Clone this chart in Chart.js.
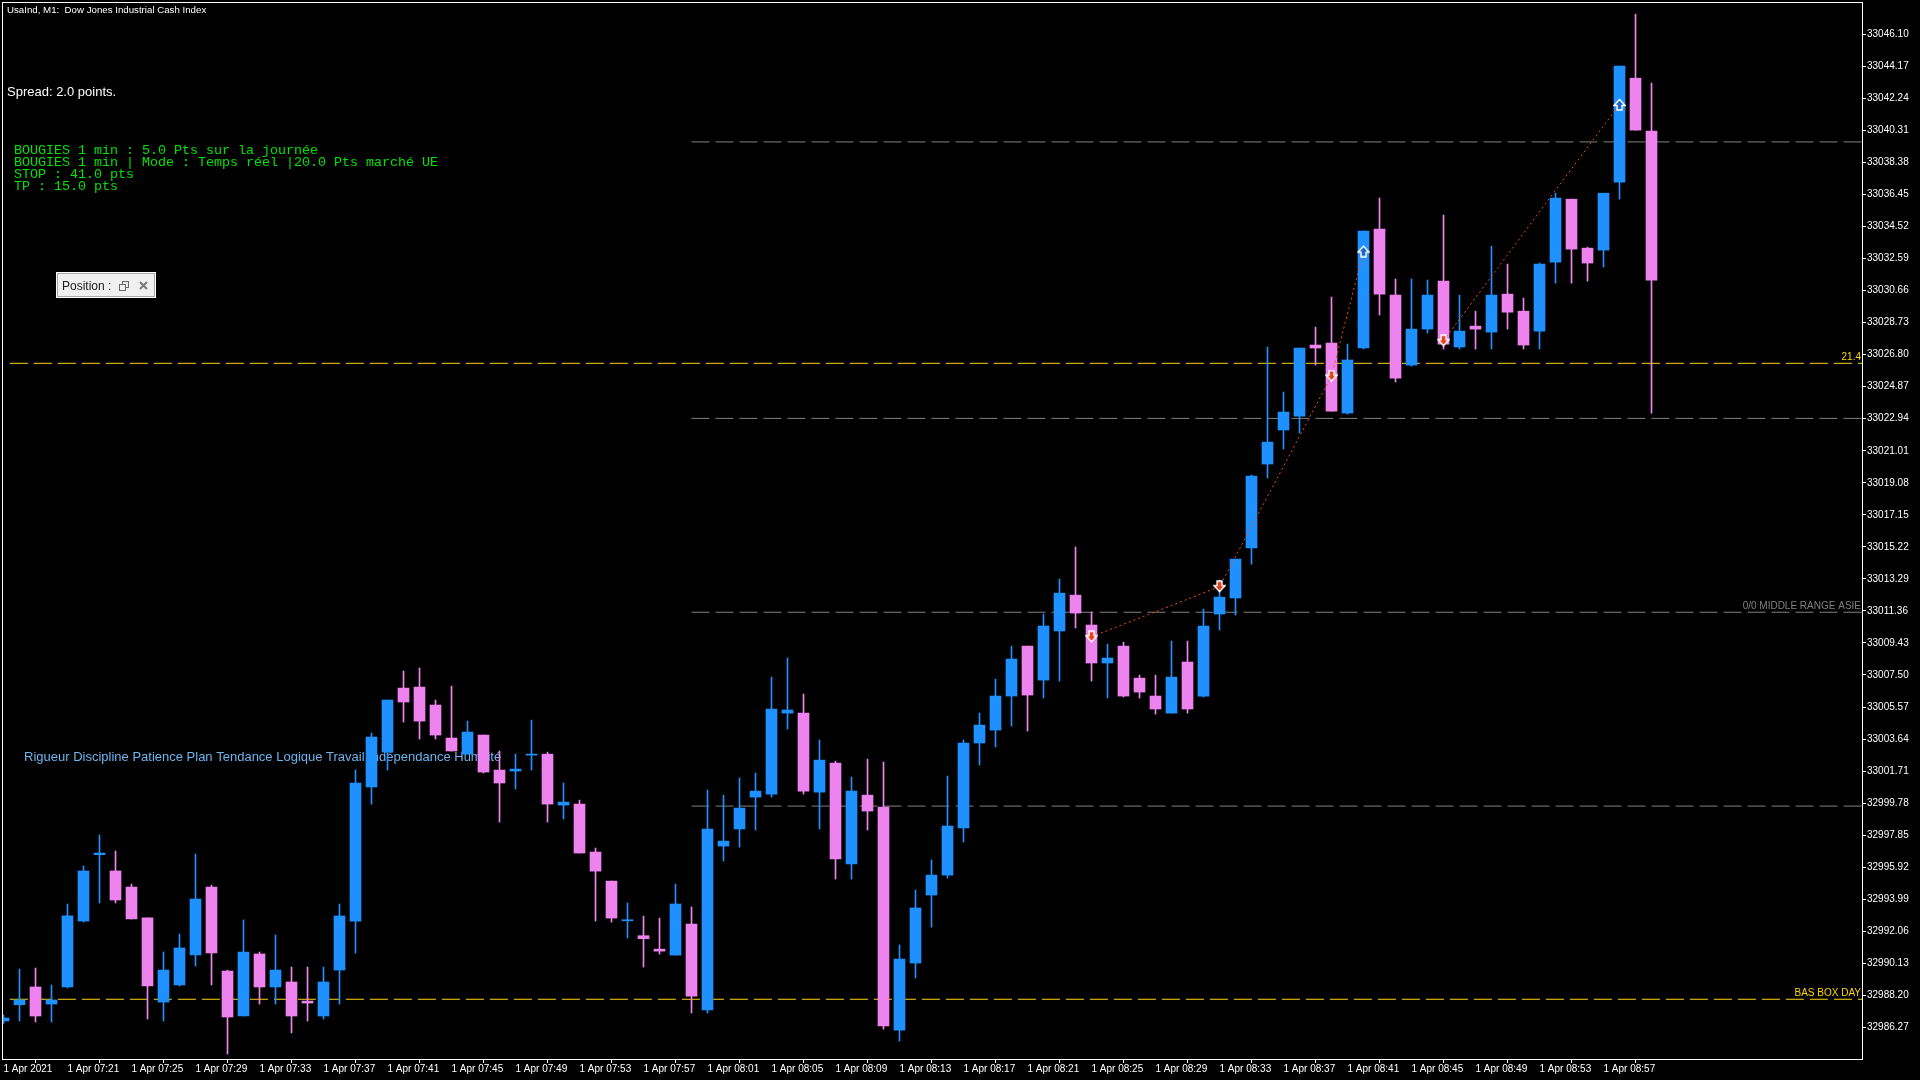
<!DOCTYPE html>
<html><head><meta charset="utf-8">
<style>html,body{margin:0;padding:0;background:#000;overflow:hidden}#wrap{width:1920px;height:1080px}canvas{display:block}</style>
<script src="https://cdn.jsdelivr.net/npm/chart.js@4.4.1/dist/chart.umd.min.js"></script>
</head><body>
<div id="wrap"><canvas id="c" width="1920" height="1080"></canvas></div>
<script>
// ---------- texts ----------
const chartTitle = "UsaInd, M1:  Dow Jones Industrial Cash Index";
const spreadText = "Spread: 2.0 points.";
const infoLines = [
  "BOUGIES 1 min : 5.0 Pts sur la journée",
  "BOUGIES 1 min | Mode : Temps réel |20.0 Pts marché UE",
  "STOP : 41.0 pts",
  "TP : 15.0 pts"
];
const mottoText = "Rigueur Discipline Patience Plan Tendance Logique Travail Indépendance Humilité";
const panelText = "Position :";

// ---------- axes ----------
const xTickLabels = ["1 Apr 2021","1 Apr 07:21","1 Apr 07:25","1 Apr 07:29","1 Apr 07:33","1 Apr 07:37",
  "1 Apr 07:41","1 Apr 07:45","1 Apr 07:49","1 Apr 07:53","1 Apr 07:57","1 Apr 08:01","1 Apr 08:05",
  "1 Apr 08:09","1 Apr 08:13","1 Apr 08:17","1 Apr 08:21","1 Apr 08:25","1 Apr 08:29","1 Apr 08:33",
  "1 Apr 08:37","1 Apr 08:41","1 Apr 08:45","1 Apr 08:49","1 Apr 08:53","1 Apr 08:57"];
const barsPerXTick = 4;
const yTickValues = [32986.27,32988.20,32990.13,32992.06,32993.99,32995.92,32997.85,32999.78,33001.71,
  33003.64,33005.57,33007.50,33009.43,33011.36,33013.29,33015.22,33017.15,33019.08,33021.01,33022.94,
  33024.87,33026.80,33028.73,33030.66,33032.59,33034.52,33036.45,33038.38,33040.31,33042.24,33044.17,33046.10];

// ---------- candles (one per minute from 07:17) ----------
const opens = [32986.65,32987.63,32988.70,32987.67,32988.70,32992.67,32996.67,32995.69,32994.72,32992.86,
  32987.79,32988.82,32990.63,32994.72,32989.66,32986.95,32990.69,32988.70,32989.00,32987.85,
  32986.95,32989.72,32992.67,33000.75,33002.85,33006.71,33006.77,33005.69,33003.70,33002.73,
  33003.88,33001.77,33001.71,33002.67,33002.73,32999.66,32999.72,32996.83,32995.08,32992.69,
  32991.79,32990.98,32990.62,32992.49,32987.31,32997.19,32998.22,33000.14,33000.32,33005.20,
  33005.20,33000.44,33002.19,32996.11,33000.26,32999.54,32986.10,32990.14,32994.24,32995.44,
  32998.28,33003.40,33004.18,33006.23,33009.24,33007.19,33010.15,33012.31,33010.51,33008.22,
  33009.24,33007.31,33006.23,33005.20,33008.28,33006.23,33011.17,33012.14,33015.15,33020.21,
  33022.26,33023.10,33027.38,33027.50,33023.28,33027.20,33034.37,33030.39,33026.17,33028.34,
  33031.24,33027.26,33028.52,33028.16,33030.45,33029.42,33028.22,33032.38,33036.17,33033.22,
  33033.10,33037.20,33043.46,33040.27];
const highs = [32987.00,32989.78,32989.84,32988.82,32993.70,32995.99,32997.86,32996.89,32994.90,32992.86,
  32990.81,32991.89,32996.71,32994.84,32989.72,32992.74,32990.81,32991.83,32989.90,32989.90,
  32989.90,32993.70,33001.77,33004.00,33005.99,33007.74,33007.92,33005.99,33006.83,33004.72,
  33003.88,33002.92,33002.73,33004.78,33002.85,33000.99,32999.96,32997.07,32995.08,32993.76,
  32992.97,32992.85,32994.90,32993.52,33000.57,33000.26,33001.29,33001.59,33007.37,33008.52,
  33006.35,33003.58,33002.31,33001.35,33002.43,33002.25,32991.23,32994.54,32996.35,33001.41,
  33003.58,33005.20,33007.25,33009.24,33009.24,33011.17,33013.28,33015.21,33011.29,33009.36,
  33009.48,33007.49,33007.49,33009.54,33009.54,33011.47,33013.22,33014.48,33019.55,33027.26,
  33024.55,33027.20,33028.46,33030.27,33027.44,33034.25,33036.24,33031.36,33031.36,33031.30,
  33035.21,33030.39,33029.42,33033.34,33032.26,33030.21,33032.32,33036.53,33036.17,33033.28,
  33036.53,33044.19,33047.32,33043.16];
const lows = [32986.50,32986.65,32986.59,32986.59,32988.64,32992.61,32993.76,32993.76,32992.80,32986.77,
  32986.65,32988.76,32989.96,32988.82,32984.66,32986.95,32987.67,32987.67,32985.93,32986.65,
  32986.77,32987.67,32990.74,32999.72,33001.77,33004.66,33003.64,33003.64,33002.92,33002.73,
  33001.59,32998.64,33000.63,33001.77,32998.64,32998.82,32996.77,32992.67,32992.61,32991.65,
  32989.90,32990.68,32990.62,32987.13,32987.13,32996.29,32997.13,32998.16,33000.14,33004.24,
  33000.32,32998.22,32995.20,32995.20,32998.16,32986.16,32985.44,32989.24,32992.31,32995.26,
  32997.43,33002.07,33003.16,33004.42,33004.12,33006.11,33007.13,33010.33,33007.13,33006.11,
  33006.17,33006.11,33005.14,33005.20,33005.20,33006.17,33010.21,33011.11,33014.18,33019.37,
  33021.11,33022.08,33026.17,33023.40,33023.22,33027.14,33029.19,33025.15,33026.11,33028.10,
  33027.14,33027.14,33027.14,33027.14,33028.34,33027.14,33027.14,33031.11,33031.11,33031.23,
  33032.08,33036.17,33040.33,33023.28];
const closes = [32986.83,32987.92,32986.95,32987.92,32992.98,32995.69,32996.77,32993.94,32992.80,32988.76,
  32989.72,32991.05,32994.00,32990.75,32986.89,32990.81,32988.70,32989.72,32986.95,32987.73,
  32989.00,32992.98,33000.99,33003.76,33005.99,33005.87,33004.72,33003.88,33002.92,33004.06,
  33001.65,33000.99,33001.83,33002.73,32999.72,32999.84,32996.77,32995.68,32992.85,32992.75,
  32991.61,32990.86,32993.70,32988.15,32998.22,32997.49,32999.48,33000.50,33005.45,33005.39,
  33000.50,33002.37,32996.41,33000.50,32999.30,32986.35,32990.38,32993.46,32995.44,32998.40,
  33003.40,33004.48,33006.23,33008.46,33006.29,33010.45,33012.43,33011.23,33008.22,33008.52,
  33006.23,33006.47,33005.45,33007.37,33005.45,33010.45,33012.19,33014.48,33019.49,33021.53,
  33023.34,33027.20,33027.20,33023.40,33026.48,33034.25,33030.45,33025.39,33028.34,33030.39,
  33027.44,33028.22,33028.34,33030.39,33029.36,33027.38,33032.26,33036.23,33033.16,33032.32,
  33036.53,33044.19,33040.33,33031.29];

// ---------- horizontal levels ----------
const levelPrices    = [33039.62, 33026.28, 33022.96, 33011.28, 32999.60, 32987.96];
const levelStartBars = [43, 0.4, 43, 43, 43, 0.4];
const levelKinds     = ["range", "box", "range", "range", "range", "box"];
const levelLabels    = ["", "21.4", "", "0/0 MIDDLE RANGE ASIE", "", "BAS BOX DAY"];

// ---------- trade history (bar index, price) ----------
const tradeA_bars   = [68, 76, 83, 85];
const tradeA_prices = [33009.80, 33012.82, 33025.51, 33033.04];
const tradeA_dirs   = ["down", "down", "down", "up"];
const tradeB_bars   = [90, 101];
const tradeB_prices = [33027.64, 33041.88];
const tradeB_dirs   = ["down", "up"];

// ---------- styles ----------
const UP = '#1E90FF', DOWN = '#EE82EE';
const YELLOW = '#FFD700', GRAY = '#808080';
const X_MIN = -1/32, X_MAX = 116.156, Y_MIN = 32984.36, Y_MAX = 33047.99;

function makeArrow(down, fill) {
  const c = document.createElement('canvas'); c.width = 13; c.height = 13;
  const g = c.getContext('2d');
  const pts = down ? [[4,1],[9,1],[9,5.5],[12,5.5],[6.5,11.5],[1,5.5],[4,5.5]]
                   : [[4,12],[9,12],[9,7.5],[12,7.5],[6.5,1.5],[1,7.5],[4,7.5]];
  g.beginPath(); pts.forEach((p,i)=> i ? g.lineTo(p[0],p[1]) : g.moveTo(p[0],p[1])); g.closePath();
  g.fillStyle = fill; g.fill(); g.strokeStyle = '#fff'; g.lineWidth = 1.4; g.stroke();
  return c;
}
const arrowDown = makeArrow(true, '#e8401c');
const arrowUp = makeArrow(false, '#1a64c8');

const isUp = opens.map((o,i) => closes[i] >= o);
const candleColors = isUp.map(u => u ? UP : DOWN);

const datasets = [];
levelPrices.forEach((p, k) => {
  datasets.push({
    type: 'line', order: 20,
    data: [{x: levelStartBars[k], y: p}, {x: X_MAX, y: p}],
    borderColor: levelKinds[k] === 'box' ? YELLOW : GRAY,
    borderWidth: 1, borderDash: [18, 6], pointRadius: 0, fill: false
  });
});
datasets.push({
  type: 'bar', order: 10, grouped: false,
  data: lows.map((l,i) => ({x: i, y: [l, highs[i]]})),
  backgroundColor: candleColors, borderWidth: 0, barThickness: 1, minBarLength: 1
});
datasets.push({
  type: 'bar', order: 9, grouped: false,
  data: opens.map((o,i) => ({x: i, y: [o, closes[i]]})),
  backgroundColor: candleColors, borderWidth: 0, barThickness: 11, minBarLength: 1
});
function tradeSet(bars, prices, dirs) {
  return {
    type: 'line', order: 1,
    data: bars.map((b,i) => ({x: b, y: prices[i]})),
    borderColor: '#f04a18', borderWidth: 1, borderDash: [2, 3], fill: false,
    pointStyle: dirs.map(d => d === 'down' ? arrowDown : arrowUp),
    pointRadius: 6, tension: 0
  };
}
datasets.push(tradeSet(tradeA_bars, tradeA_prices, tradeA_dirs));
datasets.push(tradeSet(tradeB_bars, tradeB_prices, tradeB_dirs));

const SANS = '"Liberation Sans", Arial, sans-serif';

const deco = {
  id: 'deco',
  beforeDraw(chart) {
    const ctx = chart.ctx; ctx.save(); ctx.fillStyle = '#000';
    ctx.fillRect(0, 0, chart.width, chart.height); ctx.restore();
  },
  beforeDatasetsDraw(chart) {
    const ctx = chart.ctx; ctx.save();
    ctx.font = '13px ' + SANS; ctx.fillStyle = '#6cb4ee'; ctx.textBaseline = 'alphabetic';
    ctx.fillText(mottoText, 24, 761);
    ctx.restore();
  },
  afterDatasetsDraw(chart) {
    const ctx = chart.ctx, ys = chart.scales.y, a = chart.chartArea;
    ctx.save(); ctx.font = '10px ' + SANS; ctx.textAlign = 'right'; ctx.textBaseline = 'alphabetic';
    levelPrices.forEach((p,k) => {
      if (!levelLabels[k]) return;
      ctx.fillStyle = levelKinds[k] === 'box' ? YELLOW : GRAY;
      ctx.fillText(levelLabels[k], a.right - 1, Math.round(ys.getPixelForValue(p)) - 3);
    });
    ctx.restore();
  },
  afterDraw(chart) {
    const ctx = chart.ctx, a = chart.chartArea;
    ctx.save();
    ctx.strokeStyle = '#fff'; ctx.lineWidth = 1;
    ctx.strokeRect(a.left - 0.5, a.top - 0.5, a.right - a.left + 1, a.bottom - a.top + 1);
    ctx.fillStyle = '#fff'; ctx.font = '9.7px ' + SANS; ctx.textBaseline = 'alphabetic';
    ctx.fillText(chartTitle, 7, 13);
    ctx.font = '13px ' + SANS;
    ctx.fillText(spreadText, 7, 96);
    ctx.fillStyle = '#00e400'; ctx.font = '13.33px "Liberation Mono", "Courier New", monospace';
    infoLines.forEach((t, i) => ctx.fillText(t, 14, 154 + i * 12));
    ctx.fillStyle = '#f0f0f0'; ctx.fillRect(56, 272, 100, 26);
    ctx.strokeStyle = '#ffffff'; ctx.strokeRect(56.5, 272.5, 99, 25);
    ctx.strokeStyle = '#a8a8a8'; ctx.strokeRect(57.5, 273.5, 97, 23);
    ctx.fillStyle = '#202020'; ctx.font = '12px ' + SANS;
    ctx.fillText(panelText, 62, 290);
    ctx.strokeStyle = '#6a6a6a';
    ctx.strokeRect(122.5, 281.5, 6, 6);
    ctx.fillStyle = '#f0f0f0'; ctx.fillRect(119, 284, 7, 7);
    ctx.strokeRect(119.5, 284.5, 6, 6);
    ctx.strokeStyle = '#7a7a7a'; ctx.lineWidth = 2;
    ctx.beginPath(); ctx.moveTo(140, 282); ctx.lineTo(147, 289); ctx.moveTo(147, 282); ctx.lineTo(140, 289); ctx.stroke();
    ctx.restore();
  }
};

function zeroPad(s) { s.paddingTop = 0; s.paddingBottom = 0; s.paddingLeft = 0; s.paddingRight = 0; }

new Chart(document.getElementById('c'), {
  type: 'bar',
  data: { datasets },
  options: {
    responsive: false, animation: false, devicePixelRatio: 1,
    layout: { autoPadding: false, padding: { left: 3, top: 3, right: 0, bottom: 0 } },
    plugins: { legend: { display: false }, tooltip: { enabled: false }, title: { display: false } },
    events: [],
    scales: {
      x: {
        type: 'linear', position: 'bottom', min: X_MIN, max: X_MAX, offset: false,
        afterBuildTicks: s => { s.ticks = xTickLabels.map((_, k) => ({ value: k * barsPerXTick })); },
        afterFit: s => { s.height = 21; zeroPad(s); },
        grid: { drawOnChartArea: false, drawTicks: true, tickLength: 4, color: '#fff', tickColor: '#fff' },
        border: { display: false },
        ticks: {
          autoSkip: false, maxRotation: 0, minRotation: 0, align: 'start', padding: 0,
          color: '#fff', font: { family: 'Liberation Sans', size: 10 },
          callback: v => xTickLabels[Math.round(v / barsPerXTick)] ?? ''
        }
      },
      y: {
        type: 'linear', position: 'right', min: Y_MIN, max: Y_MAX,
        afterBuildTicks: s => { s.ticks = yTickValues.map(v => ({ value: v })); },
        afterFit: s => { s.width = 58; zeroPad(s); },
        grid: { drawOnChartArea: false, drawTicks: true, tickLength: 4, color: '#fff', tickColor: '#fff' },
        border: { display: false },
        ticks: {
          autoSkip: false, padding: 1, color: '#fff', font: { family: 'Liberation Sans', size: 10 },
          callback: v => Number(v).toFixed(2)
        }
      }
    }
  },
  plugins: [deco]
});
</script>
</body></html>
